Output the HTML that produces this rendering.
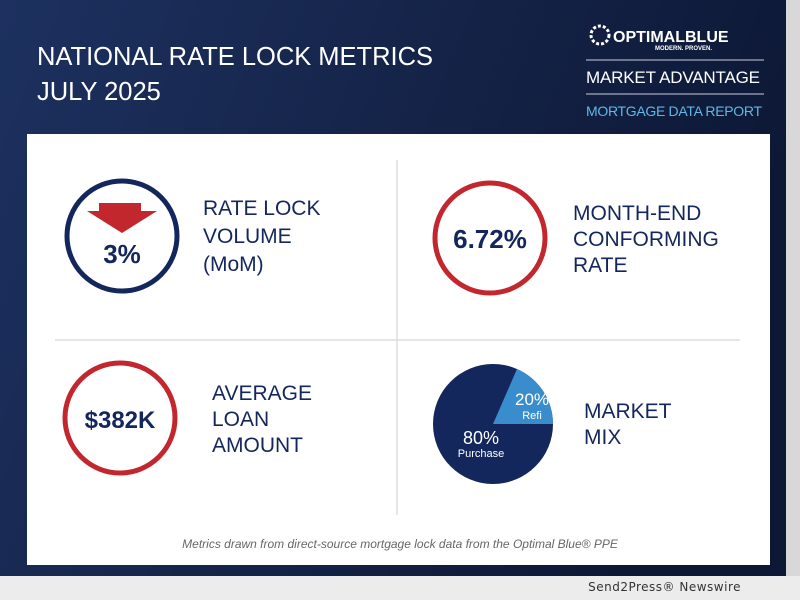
<!DOCTYPE html>
<html><head><meta charset="utf-8"><style>
body{margin:0;width:800px;height:600px;overflow:hidden;background:#e8e8e8;font-family:"Liberation Sans",sans-serif}
</style></head><body>
<svg width="800" height="600" xmlns="http://www.w3.org/2000/svg" style="position:absolute;left:0;top:0">
<defs>
<linearGradient id="bg" x1="0" y1="0" x2="1" y2="0.3">
<stop offset="0" stop-color="#1d3160"/><stop offset="0.5" stop-color="#152449"/><stop offset="1" stop-color="#0d1836"/>
</linearGradient>
</defs>
<rect x="0" y="0" width="800" height="600" fill="#ececec"/>
<rect x="0" y="0" width="786" height="576" fill="url(#bg)"/>
<rect x="786" y="0" width="14" height="576" fill="#d8d8d8"/>
<rect x="27" y="134" width="743" height="431" fill="#ffffff"/>
<g fill="#ffffff" font-size="25.5">
<text x="37" y="65" textLength="396">NATIONAL RATE LOCK METRICS</text>
<text x="37" y="100">JULY 2025</text>
</g>
<circle cx="600" cy="35" r="9" fill="none" stroke="#fff" stroke-width="3" stroke-dasharray="3 2"/>
<text x="613" y="42" fill="#fff" font-size="16" font-weight="bold">OPTIMALBLUE</text>
<text x="712" y="50" fill="#fff" font-size="6" font-weight="bold" text-anchor="end">MODERN. PROVEN.</text>
<line x1="586" y1="60" x2="764" y2="60" stroke="#ccd" stroke-width="1"/>
<text x="586" y="83" fill="#fff" font-size="17" textLength="174">MARKET ADVANTAGE</text>
<line x1="586" y1="94" x2="764" y2="94" stroke="#ccd" stroke-width="1"/>
<text x="586" y="116" fill="#5fb8e8" font-size="14" textLength="176">MORTGAGE DATA REPORT</text>
<line x1="397" y1="160" x2="397" y2="515" stroke="#ddd" stroke-width="1.5"/>
<line x1="55" y1="340" x2="740" y2="340" stroke="#ddd" stroke-width="1.5"/>
<circle cx="122" cy="236" r="55" fill="none" stroke="#14275c" stroke-width="5"/>
<polygon points="99,203 141,203 141,211 157,211 122,233 87,211 99,211" fill="#c1272d"/>
<text x="122" y="263" fill="#14275c" font-size="26" font-weight="bold" text-anchor="middle">3%</text>
<g fill="#14275c" font-size="21">
<text x="203" y="215">RATE LOCK</text><text x="203" y="243">VOLUME</text><text x="203" y="271">(MoM)</text>
</g>
<circle cx="490" cy="238" r="55" fill="none" stroke="#c1272d" stroke-width="5"/>
<text x="490" y="248" fill="#14275c" font-size="26" font-weight="bold" text-anchor="middle">6.72%</text>
<g fill="#14275c" font-size="21">
<text x="573" y="220">MONTH-END</text><text x="573" y="246">CONFORMING</text><text x="573" y="272">RATE</text>
</g>
<circle cx="120" cy="418" r="55" fill="none" stroke="#c1272d" stroke-width="5"/>
<text x="120" y="428" fill="#14275c" font-size="24" font-weight="bold" text-anchor="middle">$382K</text>
<g fill="#14275c" font-size="21">
<text x="212" y="400">AVERAGE</text><text x="212" y="426">LOAN</text><text x="212" y="452">AMOUNT</text>
</g>
<circle cx="493" cy="424" r="60" fill="#14275c"/>
<path d="M493,424 L517,369 A60,60 0 0 1 553,424 Z" fill="#3a8dcc"/>
<text x="532" y="405" fill="#fff" font-size="17" text-anchor="middle">20%</text>
<text x="532" y="419" fill="#fff" font-size="11" text-anchor="middle">Refi</text>
<text x="481" y="444" fill="#fff" font-size="18" text-anchor="middle">80%</text>
<text x="481" y="457" fill="#fff" font-size="11" text-anchor="middle">Purchase</text>
<g fill="#14275c" font-size="21">
<text x="584" y="418">MARKET</text><text x="584" y="444">MIX</text>
</g>
<text x="400" y="548" fill="#666" font-size="12" font-style="italic" text-anchor="middle">Metrics drawn from direct-source mortgage lock data from the Optimal Blue® PPE</text>
<text x="741" y="591" fill="#333" font-size="12" text-anchor="end" font-family="DejaVu Sans" letter-spacing="0.5">Send2Press® Newswire</text>
</svg>
</body></html>
